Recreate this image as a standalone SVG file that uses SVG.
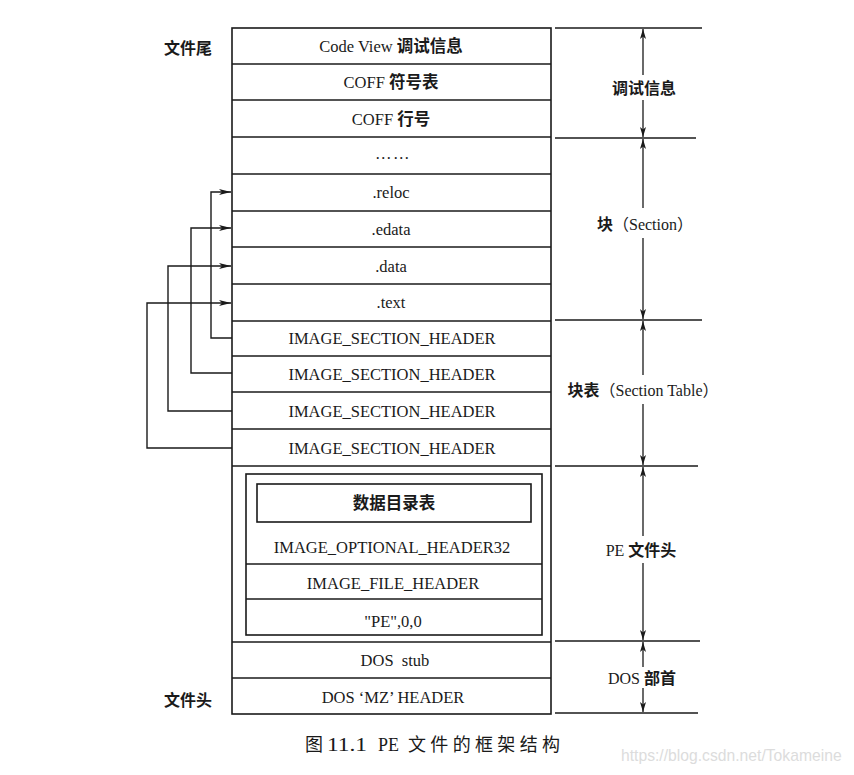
<svg xmlns="http://www.w3.org/2000/svg" width="854" height="775" viewBox="0 0 854 775">
<style>
.bg{fill:#ffffff}
.box{fill:#ffffff;stroke:#1a1a1a;stroke-width:1.6}
.div{stroke:#1a1a1a;stroke-width:1.6;fill:none}
.guide{stroke:#1a1a1a;stroke-width:1.4;fill:none}
.conn{stroke:#1a1a1a;stroke-width:1.4;fill:none}
.dim{stroke:#1a1a1a;stroke-width:1.3;fill:none}
text{font-family:"Liberation Serif","Noto Sans CJK SC",serif;fill:#1a1a1a}
.t{font-size:16.5px;text-anchor:middle}
.cj{font-family:"Noto Sans CJK SC",sans-serif;font-weight:700}
.lab{font-size:16px;text-anchor:middle}
.cap{font-size:18px}
.wm{font-family:"Liberation Sans",Arial,sans-serif;font-size:15.7px;fill:#dcdcdc}
</style>
<defs>
<marker id="ah" viewBox="0 0 12 6" refX="12" refY="3" markerWidth="12" markerHeight="6" markerUnits="userSpaceOnUse" orient="auto">
<path d="M0,0 L12,3 L0,6 L3,3 Z" fill="#1a1a1a"/>
</marker>
<marker id="ah2" viewBox="0 0 10 6" refX="10" refY="3" markerWidth="10" markerHeight="6" markerUnits="userSpaceOnUse" orient="auto">
<path d="M0,0 L10,3 L0,6 L2.5,3 Z" fill="#1a1a1a"/>
</marker>
</defs>
<rect class="bg" x="0" y="0" width="854" height="775"/>

<g id="file-layout">
<rect class="box" x="232" y="28" width="319" height="686"/>
</g>

<g id="codeview"><text class="t" x="391" y="52">Code View <tspan class="cj">调试信息</tspan></text></g>
<g id="coff-symbols"><line class="div" x1="232" y1="64" x2="551" y2="64"/><text class="t" x="391" y="88">COFF <tspan class="cj">符号表</tspan></text></g>
<g id="coff-lines"><line class="div" x1="232" y1="100" x2="551" y2="100"/><text class="t" x="391" y="125">COFF <tspan class="cj">行号</tspan></text></g>
<g id="more"><line class="div" x1="232" y1="137" x2="551" y2="137"/><text class="t" x="393" y="159" letter-spacing="1.5">……</text></g>
<g id="reloc"><line class="div" x1="232" y1="174" x2="551" y2="174"/><text class="t" x="391" y="198">.reloc</text></g>
<g id="edata"><line class="div" x1="232" y1="211" x2="551" y2="211"/><text class="t" x="391" y="235">.edata</text></g>
<g id="data"><line class="div" x1="232" y1="247" x2="551" y2="247"/><text class="t" x="391" y="272">.data</text></g>
<g id="textsec"><line class="div" x1="232" y1="284" x2="551" y2="284"/><text class="t" x="391" y="308">.text</text></g>
<g id="ish1"><line class="div" x1="232" y1="321" x2="551" y2="321"/><text class="t" x="392" y="344">IMAGE_SECTION_HEADER</text></g>
<g id="ish2"><line class="div" x1="232" y1="356" x2="551" y2="356"/><text class="t" x="392" y="380">IMAGE_SECTION_HEADER</text></g>
<g id="ish3"><line class="div" x1="232" y1="392" x2="551" y2="392"/><text class="t" x="392" y="417">IMAGE_SECTION_HEADER</text></g>
<g id="ish4"><line class="div" x1="232" y1="429" x2="551" y2="429"/><text class="t" x="392" y="454">IMAGE_SECTION_HEADER</text></g>

<g id="pe-header">
<line class="div" x1="232" y1="466" x2="551" y2="466"/>
<rect class="box" x="246" y="474" width="296" height="161"/>
</g>
<g id="data-directory"><rect class="box" x="257" y="484" width="274" height="38"/><text class="t" x="394" y="509"><tspan class="cj">数据目录表</tspan></text></g>
<g id="optional-header"><text class="t" x="392" y="553">IMAGE_OPTIONAL_HEADER32</text></g>
<g id="file-header"><line class="div" x1="246" y1="564" x2="542" y2="564"/><text class="t" x="393" y="589">IMAGE_FILE_HEADER</text></g>
<g id="pe-sig"><line class="div" x1="246" y1="599" x2="542" y2="599"/><text class="t" x="393" y="627">"PE",0,0</text></g>
<g id="dos-stub"><line class="div" x1="232" y1="642" x2="551" y2="642"/><text class="t" x="395" y="666">DOS&#160; stub</text></g>
<g id="dos-mz"><line class="div" x1="232" y1="678" x2="551" y2="678"/><text class="t" x="393" y="703">DOS ‘MZ’ HEADER</text></g>

<g id="side-labels">
<text class="lab" x="188" y="54"><tspan class="cj">文件尾</tspan></text>
<text class="lab" x="188" y="706"><tspan class="cj">文件头</tspan></text>
</g>

<g id="connectors">
<path class="conn" d="M232,338 H211 V192 H231" marker-end="url(#ah)"/>
<path class="conn" d="M232,373 H191 V228 H231" marker-end="url(#ah)"/>
<path class="conn" d="M232,411 H168 V266 H231" marker-end="url(#ah)"/>
<path class="conn" d="M232,448 H147 V303 H231" marker-end="url(#ah)"/>
</g>

<g id="guides">
<line class="guide" x1="555" y1="28" x2="702" y2="28"/>
<line class="guide" x1="555" y1="138" x2="696" y2="138"/>
<line class="guide" x1="555" y1="320" x2="702" y2="320"/>
<line class="guide" x1="555" y1="466" x2="698" y2="466"/>
<line class="guide" x1="555" y1="641" x2="700" y2="641"/>
<line class="guide" x1="555" y1="713" x2="698" y2="713"/>
</g>

<g id="dimensions">
<line class="dim" x1="643" y1="75" x2="643" y2="29" marker-end="url(#ah2)"/>
<line class="dim" x1="643" y1="100" x2="643" y2="137" marker-end="url(#ah2)"/>
<line class="dim" x1="643" y1="208" x2="643" y2="139" marker-end="url(#ah2)"/>
<line class="dim" x1="643" y1="238" x2="643" y2="319" marker-end="url(#ah2)"/>
<line class="dim" x1="643" y1="375" x2="643" y2="321" marker-end="url(#ah2)"/>
<line class="dim" x1="643" y1="404" x2="643" y2="465" marker-end="url(#ah2)"/>
<line class="dim" x1="643" y1="536" x2="643" y2="467" marker-end="url(#ah2)"/>
<line class="dim" x1="643" y1="563" x2="643" y2="640" marker-end="url(#ah2)"/>
<line class="dim" x1="643" y1="667" x2="643" y2="642" marker-end="url(#ah2)"/>
<line class="dim" x1="643" y1="688" x2="643" y2="712" marker-end="url(#ah2)"/>
</g>

<g id="dim-labels">
<text class="lab" x="644" y="94"><tspan class="cj">调试信息</tspan></text>
<text class="lab" x="645" y="230"><tspan class="cj">块</tspan>（Section）</text>
<text class="lab" x="643" y="396"><tspan class="cj">块表</tspan>（Section Table）</text>
<text class="lab" x="641" y="556">PE <tspan class="cj">文件头</tspan></text>
<text class="lab" x="642" y="684">DOS <tspan class="cj">部首</tspan></text>
</g>

<g id="caption">
<text class="cap" y="751"><tspan x="305" font-family="Noto Sans CJK SC, sans-serif">图</tspan><tspan x="327" textLength="40" lengthAdjust="spacingAndGlyphs">11.1</tspan><tspan x="378">PE</tspan><tspan x="408" font-family="Noto Sans CJK SC, sans-serif" textLength="152" lengthAdjust="spacing">文件的框架结构</tspan></text>
<text class="wm" x="621" y="761">https://blog.csdn.net/Tokameine</text>
</g>
</svg>
